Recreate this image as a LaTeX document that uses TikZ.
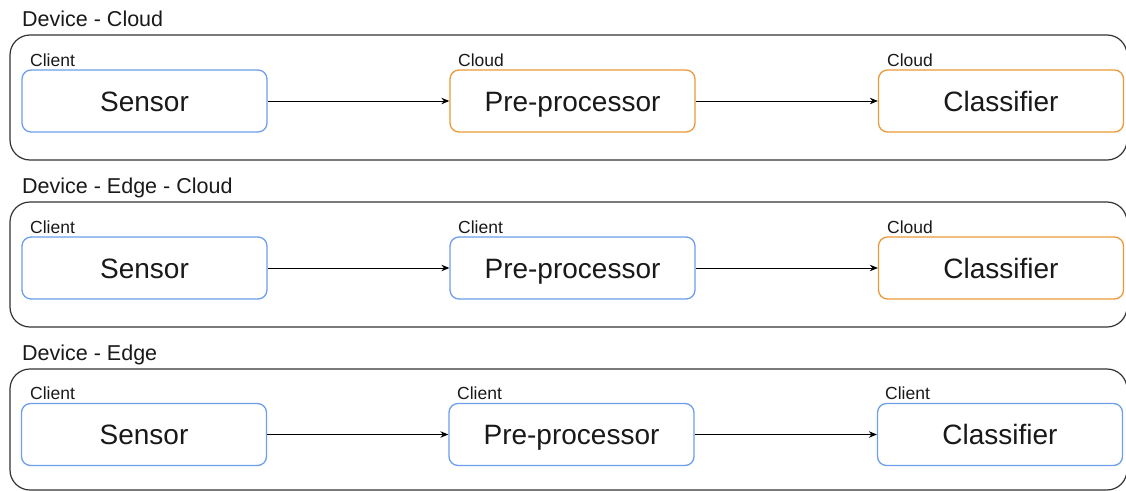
\documentclass[tikz,border=0pt]{standalone}
\usepackage{fontspec}
\setmainfont{Liberation Sans}
\usetikzlibrary{arrows.meta}
\definecolor{cblue}{HTML}{6D9EEB}
\definecolor{corange}{HTML}{EA9A38}
\definecolor{cframe}{HTML}{333333}
\begin{document}
\begin{tikzpicture}[x=1pt,y=-1pt,
  outer/.style={draw=cframe, line width=1.2pt, rounded corners=20pt},
  stage/.style={draw, rounded corners=9pt, line width=1.3pt, minimum width=245pt, minimum height=62pt,
    text height=20pt, text depth=0pt, fill=white, font=\fontsize{28}{33}\selectfont, text=black!90},
  client/.style={stage, draw=cblue},
  cloud/.style={stage, draw=corange},
  tag/.style={anchor=base west, inner sep=0pt, font=\fontsize{17.5}{20}\selectfont, text=black!90},
  title/.style={anchor=base west, inner sep=0pt, font=\fontsize{21.5}{25}\selectfont, text=black!90},
  arr/.style={-{Stealth[length=8pt,width=6.5pt]}, line width=1pt, black}]
\useasboundingbox (0,0) rectangle (1126,490);

% Row 1: Device - Cloud
\node[title] (t1) at (22,26) {Device - Cloud};
\draw[outer] (10,35) rectangle (1127,160);
\node[client] (s1) at (144.5,101) {Sensor};
\node[cloud]  (p1) at (572.5,101) {Pre-processor};
\node[cloud]  (c1) at (1001,101) {Classifier};
\node[tag] (ls1) at (30,66) {Client};
\node[tag] (lp1) at (458,66) {Cloud};
\node[tag] (lc1) at (887,66) {Cloud};
\draw[arr] (s1.east) -- (p1.west);
\draw[arr] (p1.east) -- (c1.west);

% Row 2: Device - Edge - Cloud
\node[title] (t2) at (22,193) {Device - Edge - Cloud};
\draw[outer] (10,202) rectangle (1127,327);
\node[client] (s2) at (144.5,268) {Sensor};
\node[client] (p2) at (572.5,268) {Pre-processor};
\node[cloud]  (c2) at (1001,268) {Classifier};
\node[tag] (ls2) at (30,233) {Client};
\node[tag] (lp2) at (458,233) {Client};
\node[tag] (lc2) at (887,233) {Cloud};
\draw[arr] (s2.east) -- (p2.west);
\draw[arr] (p2.east) -- (c2.west);

% Row 3: Device - Edge
\node[title] (t3) at (22,360) {Device - Edge};
\draw[outer] (10,369) rectangle (1127,490);
\node[client] (s3) at (144,434.5) {Sensor};
\node[client] (p3) at (571.5,434.5) {Pre-processor};
\node[client] (c3) at (1000,434.5) {Classifier};
\node[tag] (ls3) at (30,399) {Client};
\node[tag] (lp3) at (457,399) {Client};
\node[tag] (lc3) at (885,399) {Client};
\draw[arr] (s3.east) -- (p3.west);
\draw[arr] (p3.east) -- (c3.west);
\end{tikzpicture}
\end{document}
